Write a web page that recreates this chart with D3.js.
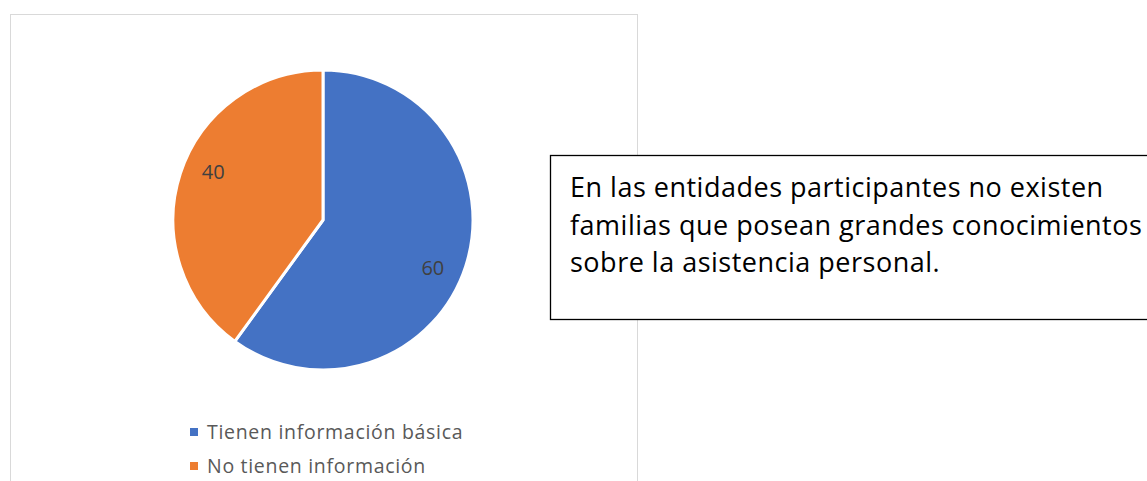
<!DOCTYPE html>
<html>
<head>
<meta charset="utf-8">
<script src="https://cdn.jsdelivr.net/npm/d3@7"></script>
<style>
  body { margin: 0; background: #fff; }
  svg { display: block; }
</style>
</head>
<body>
<div id="wrapper"></div>
<script>
// data
const categories = ["Tienen información básica", "No tienen información"]
const values = [60, 40]
const colors = ["#4472c4", "#ed7d31"]
const noteLines = [
  "En las entidades participantes no existen",
  "familias que posean grandes conocimientos",
  "sobre la asistencia personal."
]

function drawChart() {
  const width = 1147
  const height = 481
  const font = "'Open Sans', sans-serif"

  const svg = d3.select("#wrapper")
    .append("svg")
      .attr("width", width)
      .attr("height", height)

  // chart frame
  svg.append("rect")
    .attr("x", 10.5)
    .attr("y", 14.5)
    .attr("width", 627)
    .attr("height", 500)
    .attr("fill", "#fff")
    .attr("stroke", "#d9d9d9")
    .attr("stroke-width", 1)

  const data = categories.map((c, i) => ({ name: c, value: values[i], color: colors[i] }))

  const radius = 150
  const pieG = svg.append("g")
    .attr("transform", "translate(323, 220)")

  const pie = d3.pie().value(d => d.value).sort(null)
  const arc = d3.arc().innerRadius(0).outerRadius(radius)
  const labelArc = d3.arc().innerRadius(radius * 0.8).outerRadius(radius * 0.8)
  const labelShift = 0.1  // excel nudges the labels a little clockwise

  const arcs = pie(data)

  pieG.selectAll("path")
    .data(arcs)
    .enter()
    .append("path")
      .attr("d", arc)
      .attr("fill", d => d.data.color)
      .attr("stroke", "#fff")
      .attr("stroke-width", 3)
      .attr("stroke-linejoin", "round")

  pieG.selectAll(".label")
    .data(arcs)
    .enter()
    .append("text")
      .attr("class", "label")
      .attr("transform", d => `translate(${labelArc.centroid({
        startAngle: d.startAngle + labelShift,
        endAngle: d.endAngle + labelShift
      })})`)
      .attr("dy", "0.35em")
      .attr("text-anchor", "middle")
      .attr("fill", "#404040")
      .style("font-family", font)
      .style("font-size", "20px")
      .text(d => d.data.value)

  // legend
  const legend = svg.append("g")
    .attr("transform", "translate(190, 432)")

  const items = legend.selectAll("g")
    .data(data)
    .enter()
    .append("g")
      .attr("transform", (d, i) => `translate(0, ${i * 34})`)

  items.append("rect")
    .attr("x", 0)
    .attr("y", -4)
    .attr("width", 8)
    .attr("height", 8)
    .attr("fill", d => d.color)

  items.append("text")
    .attr("x", 17)
    .attr("dy", "0.35em")
    .attr("fill", "#595959")
    .style("font-family", font)
    .style("font-size", "19.5px")
    .style("letter-spacing", "0.7px")
    .text(d => d.name)

  // note box
  svg.append("rect")
    .attr("x", 550.5)
    .attr("y", 155.5)
    .attr("width", 620)
    .attr("height", 164)
    .attr("fill", "#fff")
    .attr("stroke", "#000")
    .attr("stroke-width", 1.3)

  svg.append("g")
    .selectAll("text")
    .data(noteLines)
    .enter()
    .append("text")
      .attr("x", 570)
      .attr("y", (d, i) => 197 + i * 37.5)
      .attr("fill", "#000")
      .style("font-family", font)
      .style("font-size", "27px")
      .style("letter-spacing", "0.5px")
      .text(d => d)
}

drawChart()
</script>
</body>
</html>
